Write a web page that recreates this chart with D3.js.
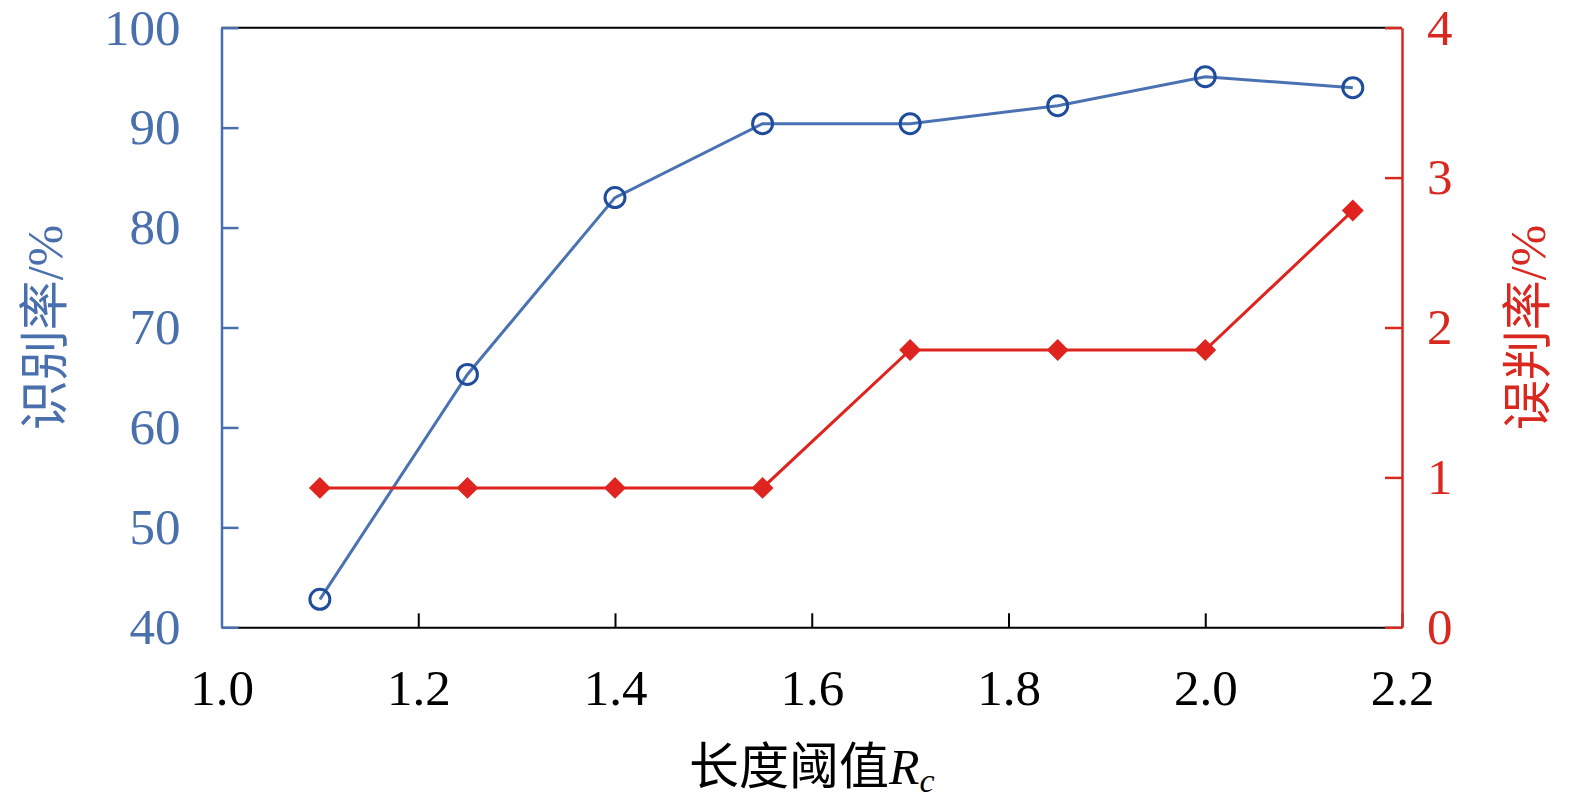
<!DOCTYPE html>
<html>
<head>
<meta charset="utf-8">
<script src="https://cdn.jsdelivr.net/npm/d3@7"></script>
<style>
  html, body { margin: 0; padding: 0; background: #fff; }
  svg { display: block; }
</style>
</head>
<body>
<svg id="chart" width="1575" height="802"></svg>
<script>
// ---- data ----
const thresholds = [1.10, 1.25, 1.40, 1.55, 1.70, 1.85, 2.00, 2.15];
const recognitionRate = [42.8, 65.3, 83.0, 90.4, 90.4, 92.2, 95.1, 94.0];
const misjudgeRate = [0.93, 0.93, 0.93, 0.93, 1.85, 1.85, 1.85, 2.78];
const xTicks = [1.0, 1.2, 1.4, 1.6, 1.8, 2.0, 2.2];
const leftTicks = [40, 50, 60, 70, 80, 90, 100];
const rightTicks = [0, 1, 2, 3, 4];

const blueAxis = "#4a6fad";
const blueLine = "#4a72b2";
const blueMarker = "#1f4d9b";
const redAxis = "#d9281f";
const redLine = "#df2420";

const serif = "'Liberation Serif', 'Times New Roman', serif";
const cjk = "'Noto Sans CJK SC', serif";

const svg = d3.select("#chart");
const L = 221.5, R = 1402, T = 27.7, B = 627.3;

const x = d3.scaleLinear().domain([1.0, 2.2]).range([L, R]);
const yL = d3.scaleLinear().domain([40, 100]).range([B, T]);
const yR = d3.scaleLinear().domain([0, 4]).range([B, T]);

// top frame line
svg.append("line").attr("x1", L).attr("x2", R).attr("y1", T).attr("y2", T)
  .attr("stroke", "#000").attr("stroke-width", 2);

// bottom axis
const gx = svg.append("g").attr("transform", `translate(0,${B})`)
  .call(d3.axisBottom(x).tickValues(xTicks).tickFormat(d3.format(".1f"))
    .tickSizeInner(-14).tickSizeOuter(0).tickPadding(41.5));
gx.select(".domain").attr("stroke", "#000").attr("stroke-width", 2);
gx.selectAll(".tick line").attr("stroke", "#000").attr("stroke-width", 2);
gx.selectAll(".tick text").attr("fill", "#000").style("font-family", serif).style("font-size", "51px");

// left axis
const gl = svg.append("g").attr("transform", `translate(${L},0)`)
  .call(d3.axisLeft(yL).tickValues(leftTicks).tickFormat(d3.format("d"))
    .tickSizeInner(-17).tickSizeOuter(0).tickPadding(41));
gl.select(".domain").attr("stroke", blueAxis).attr("stroke-width", 2.5);
gl.selectAll(".tick line").attr("stroke", blueAxis).attr("stroke-width", 2.5);
gl.selectAll(".tick text").attr("fill", blueAxis).style("font-family", serif).style("font-size", "51px");

// right axis
const gr = svg.append("g").attr("transform", `translate(${R},0)`)
  .call(d3.axisRight(yR).tickValues(rightTicks).tickFormat(d3.format("d"))
    .tickSizeInner(-17).tickSizeOuter(0).tickPadding(25));
gr.select(".domain").attr("stroke", redAxis).attr("stroke-width", 2.5);
gr.selectAll(".tick line").attr("stroke", redAxis).attr("stroke-width", 2.5);
gr.selectAll(".tick text").attr("fill", redAxis).style("font-family", serif).style("font-size", "51px");

// blue series
const blueData = thresholds.map((t, i) => [t, recognitionRate[i]]);
svg.append("path").datum(blueData)
  .attr("fill", "none").attr("stroke", blueLine).attr("stroke-width", 3)
  .attr("d", d3.line().x(d => x(d[0])).y(d => yL(d[1])));
svg.selectAll("circle.rec").data(blueData).join("circle").attr("class", "rec")
  .attr("cx", d => x(d[0])).attr("cy", d => yL(d[1])).attr("r", 10)
  .attr("fill", "none").attr("stroke", blueMarker).attr("stroke-width", 3);

// red series
const redData = thresholds.map((t, i) => [t, misjudgeRate[i]]);
svg.append("path").datum(redData)
  .attr("fill", "none").attr("stroke", redLine).attr("stroke-width", 3)
  .attr("d", d3.line().x(d => x(d[0])).y(d => yR(d[1])));
const diamond = d3.symbol().type(d3.symbolSquare).size(240);
svg.selectAll("path.mis").data(redData).join("path").attr("class", "mis")
  .attr("d", diamond)
  .attr("transform", d => `translate(${x(d[0])},${yR(d[1])}) rotate(45)`)
  .attr("fill", redLine);

// axis titles
const xt = svg.append("text").attr("x", (L + R) / 2).attr("y", 784)
  .attr("text-anchor", "middle").attr("fill", "#000")
  .style("font-size", "50px");
xt.append("tspan").style("font-family", cjk).text("长度阈值");
xt.append("tspan").style("font-family", serif).style("font-style", "italic").text("R");
xt.append("tspan").style("font-family", serif).style("font-style", "italic")
  .style("font-size", "34px").attr("dy", 8).text("c");

const lt = svg.append("text").attr("transform", `translate(62,${(T + B) / 2}) rotate(-90)`)
  .attr("text-anchor", "middle").attr("fill", blueAxis).style("font-size", "50px");
lt.append("tspan").style("font-family", cjk).text("识别率");
lt.append("tspan").style("font-family", serif).text("/%");

const rt = svg.append("text").attr("transform", `translate(1545,${(T + B) / 2}) rotate(-90)`)
  .attr("text-anchor", "middle").attr("fill", redAxis).style("font-size", "50px");
rt.append("tspan").style("font-family", cjk).text("误判率");
rt.append("tspan").style("font-family", serif).text("/%");
</script>
</body>
</html>
